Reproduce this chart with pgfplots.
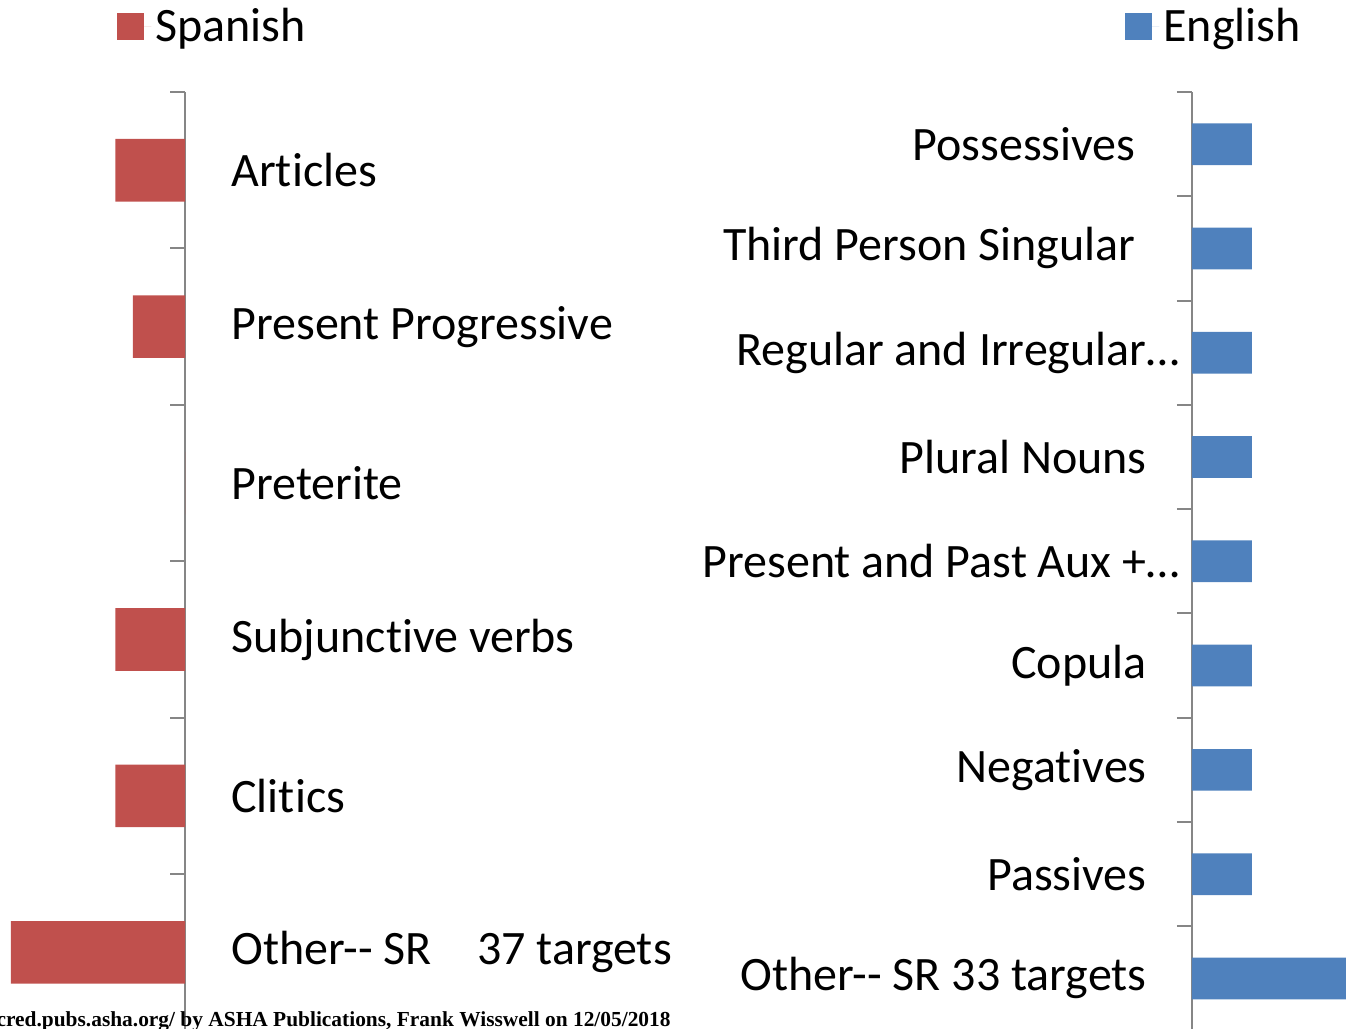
\documentclass[border=0pt]{standalone}
\usepackage{fontspec}
\setmainfont{Carlito}[Ligatures={NoCommon}]
\newfontfamily\timesfont{Liberation Serif}
\usepackage{pgfplots}
\pgfplotsset{compat=1.18}
\definecolor{spanred}{HTML}{C0504D}
\definecolor{engblue}{HTML}{4F81BD}
\definecolor{axisgray}{HTML}{868686}

\begin{document}
\begin{tikzpicture}
\useasboundingbox (0,0) rectangle (673pt,514.5pt);
\pgfplotsset{
  catbars/.style={
    scale only axis, height=469.3pt,
    xbar, bar width=0.4, bar shift=0pt,
    axis x line=none,
    y dir=reverse,
    major tick length=0pt,
    minor tick length=7.5pt,
    minor tick style={axisgray, line width=1pt},
    font=\fontsize{24}{28}\selectfont,
    legend style={draw=none, fill=none, inner sep=0pt, font=\fontsize{24}{28}\selectfont},
    legend image code/.code={\fill[##1] (0pt,-6.75pt) rectangle (13.5pt,6.75pt); \path (0pt,0pt) -- (17pt,0pt);},
    clip=true,
  },
  plainline/.style={
    axis line style={axisgray, line width=1pt, -},
    every outer y axis line/.append style={-},
    y axis line style={-},
  }
}

% Spanish
\begin{axis}[catbars, at={(0pt,468.5pt)}, anchor=north west, width=92.5pt,
  xmin=-10.63, xmax=0, ymin=0, ymax=6,
  axis y line=right, tick align=inside, plainline,
  ytick={0.5,1.5,2.5,3.5,4.5,5.5},
  yticklabels={Articles, Present Progressive, Preterite, Subjunctive verbs, Clitics, Other{-}{-} SR\hspace*{22.5pt}37 targets},
  minor ytick={0,1,...,6},
  yticklabel style={anchor=west, xshift=23pt, inner sep=0pt},
  legend style={at={(axis description cs:0.632,1.0698)}, anchor=west},
]
\addplot[fill=spanred, draw=none] coordinates {(-4,0.5) (-3,1.5) (0,2.5) (-4,3.5) (-4,4.5) (-10,5.5)};
\addlegendentry{Spanish}
\end{axis}

% English
\begin{axis}[catbars, at={(596pt,468.5pt)}, anchor=north west, width=77pt,
  xmin=0, xmax=2.57, ymin=0, ymax=9,
  axis y line=left, tick align=outside, plainline,
  ytick={0.5,1.5,2.5,3.5,4.5,5.5,6.5,7.5,8.5},
  yticklabels={Possessives\kern22pt, Third Person Singular\kern22pt, Regular and Irregular…, Plural Nouns\kern16.5pt, Present and Past Aux +…, Copula\kern16.5pt, Negatives\kern16.5pt, Passives\kern16.5pt, Other{-}{-} SR 33 targets\kern16.5pt},
  minor ytick={0,1,...,9},
  yticklabel style={anchor=east, xshift=-6pt, inner sep=0pt},
  legend style={at={(axis description cs:-0.435,1.0698)}, anchor=west},
]
\addplot[fill=engblue, draw=none] coordinates {(1,0.5) (1,1.5) (1,2.5) (1,3.5) (1,4.5) (1,5.5) (1,6.5) (1,7.5) (3,8.5)};
\addlegendentry{English}
\end{axis}

\node[anchor=base east, inner sep=0pt, font=\timesfont\bfseries\fontsize{10.7}{12}\selectfont] at (335.5pt,1pt) {cred.pubs.asha.org/ by ASHA Publications, Frank Wisswell on 12/05/2018};
\end{tikzpicture}
\end{document}
